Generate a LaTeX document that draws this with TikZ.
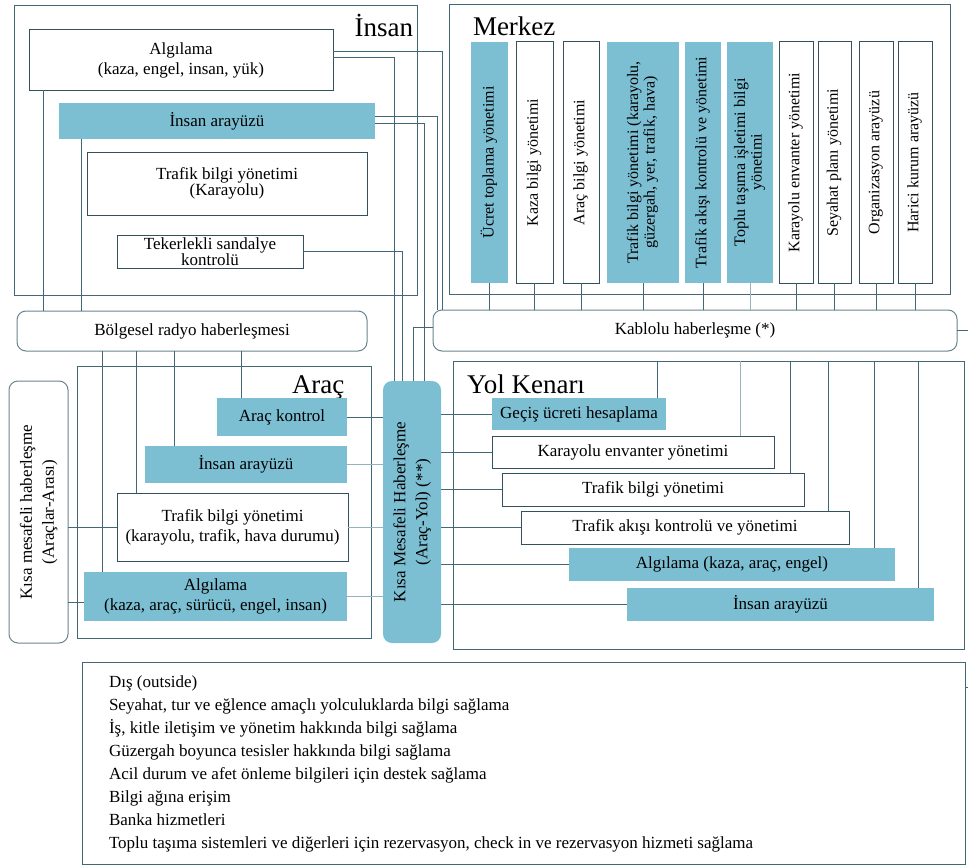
\documentclass[tikz,border=0pt]{standalone}
\usepackage{fontspec}
\setmainfont{Liberation Serif}
\usepackage{graphicx}

\definecolor{bluefill}{RGB}{124,191,211}
\definecolor{panelc}{RGB}{66,104,118}
\definecolor{boxc}{RGB}{52,80,95}
\definecolor{roundc}{RGB}{105,132,142}
\definecolor{linec}{RGB}{66,104,119}
\definecolor{lightc}{RGB}{150,178,188}

\newcommand{\boxfont}{\fontsize{17}{20}\selectfont}
\newcommand{\tightfont}{\fontsize{17}{15}\selectfont}
\newcommand{\colfont}{\fontsize{16}{16.5}\selectfont}
\newcommand{\sidefont}{\fontsize{17}{22}\selectfont}
\newcommand{\titlefont}{\fontsize{27}{30}\selectfont}
\newcommand{\listfont}{\fontsize{17}{19}\selectfont}

% vertical (rotated) multi-line label inside an upright box
\newcommand{\vtext}[1]{\rotatebox{90}{\begin{tabular}{@{}c@{}}#1\end{tabular}}}

% box given by its corners (x1,y1) (x2,y2) in pixel units
\newcommand{\boxat}[7]{%
  \node[#1,minimum width={(#5)-(#3)},minimum height={(#6)-(#4)}]
    (#2) at ({((#3)+(#5))/2},{((#4)+(#6))/2}) {#7};}

\tikzset{
  every node/.style={inner sep=0pt,outer sep=0pt},
  panel/.style={draw=panelc,line width=1pt,rectangle},
  wbox/.style={draw=boxc,line width=1pt,fill=white,align=center,font=\boxfont},
  bbox/.style={fill=bluefill,align=center,font=\boxfont},
  wcol/.style={draw=boxc,line width=1pt,fill=white,font=\colfont},
  bcol/.style={fill=bluefill,font=\colfont},
  rbox/.style={draw=roundc,line width=1pt,rounded corners=9pt,fill=white,align=center,font=\boxfont},
  rblue/.style={fill=bluefill,rounded corners=9pt,font=\sidefont},
  link/.style={draw=linec,line width=0.95pt},
  linklight/.style={draw=lightc,line width=0.95pt},
  title/.style={font=\titlefont,anchor=base west},
  listline/.style={font=\listfont,anchor=base west},
}

\begin{document}
\begin{tikzpicture}[x=1pt,y=-1pt]
\useasboundingbox (0,0) rectangle (968,867);
\fill[white] (0,0) rectangle (968,867);

% ---------- panels ----------
\boxat{panel}{human}{14}{6}{417}{295}{}
\boxat{panel}{center}{449}{5}{950}{294}{}
\boxat{panel}{vehicle}{77}{366}{371}{638}{}
\boxat{panel}{road}{453}{361}{964}{649}{}
\boxat{panel}{outside}{82}{662}{965}{864}{}

\node[title,anchor=base east] (tHuman) at (413,37) {İnsan};
\node[title] (tCenter) at (473,36) {Merkez};
\node[title] (tVehicle) at (292,393) {Araç};
\node[title] (tRoad) at (467,393) {Yol Kenarı};

% ---------- human side ----------
\boxat{wbox}{hAlg}{29}{30}{333}{90}{Algılama\\(kaza, engel, insan, yük)}
\boxat{bbox}{hHmi}{59}{103}{375}{139}{İnsan arayüzü}
\boxat{wbox,font=\tightfont}{hTraf}{87}{152}{367}{215}{Trafik bilgi yönetimi\\(Karayolu)}
\boxat{wbox,font=\tightfont}{hWheel}{117}{235}{303}{268}{Tekerlekli sandalye\\kontrolü}

% ---------- center ----------
\boxat{bcol}{m1}{471}{42}{508}{283}{\vtext{Ücret toplama yönetimi}}
\boxat{wcol}{m2}{516}{42}{553}{283}{\vtext{Kaza bilgi yönetimi}}
\boxat{wcol}{m3}{563}{42}{599}{283}{\vtext{Araç bilgi yönetimi}}
\boxat{bcol}{m4}{607}{42}{679}{283}{\vtext{Trafik bilgi yönetimi (karayolu,\\güzergah, yer, trafik, hava)}}
\boxat{bcol}{m5}{685}{42}{721}{283}{\vtext{Trafik akışı kontrolü ve yönetimi}}
\boxat{bcol}{m6}{727}{42}{773}{283}{\vtext{Toplu taşıma işletimi bilgi\\yönetimi}}
\boxat{wcol}{m7}{779}{42}{813}{283}{\vtext{Karayolu envanter yönetimi}}
\boxat{wcol}{m8}{818}{42}{851}{283}{\vtext{Seyahat planı yönetimi}}
\boxat{wcol}{m9}{859}{42}{893}{283}{\vtext{Organizasyon arayüzü}}
\boxat{wcol}{m10}{898}{42}{932}{283}{\vtext{Harici kurum arayüzü}}

% ---------- communication bars ----------
\boxat{rbox}{kab}{433}{310}{957}{351}{Kablolu haberleşme (*)}
\boxat{rbox}{bol}{17}{311}{367}{351}{Bölgesel radyo haberleşmesi}
\boxat{rbox,font=\sidefont}{v2v}{9}{381}{68}{643}{\vtext{Kısa mesafeli haberleşme\\(Araçlar-Arası)}}
\boxat{rblue}{v2r}{383}{381}{441}{643}{\vtext{Kısa Mesafeli Haberleşme\\(Araç-Yol) (**)}}

% ---------- vehicle ----------
\boxat{bbox}{aCtl}{217}{398}{347}{436}{Araç kontrol}
\boxat{bbox}{aHmi}{145}{446}{347}{483}{İnsan arayüzü}
\boxat{wbox}{aTraf}{117}{493}{348}{561}{Trafik bilgi yönetimi\\(karayolu, trafik, hava durumu)}
\boxat{bbox}{aAlg}{84}{572}{347}{621}{Algılama\\(kaza, araç, sürücü, engel, insan)}

% ---------- roadside ----------
\boxat{bbox}{r1}{492}{398}{666}{430}{Geçiş ücreti hesaplama}
\boxat{wbox}{r2}{492}{436}{774}{468}{Karayolu envanter yönetimi}
\boxat{wbox}{r3}{502}{473}{804}{506}{Trafik bilgi yönetimi}
\boxat{wbox}{r4}{521}{511}{849}{544}{Trafik akışı kontrolü ve yönetimi}
\boxat{bbox}{r5}{569}{548}{895}{581}{Algılama (kaza, araç, engel)}
\boxat{bbox}{r6}{627}{588}{934}{621}{İnsan arayüzü}

% ---------- outside list ----------
\foreach \t [count=\i] in {%
  {Dış (outside)},
  {Seyahat, tur ve eğlence amaçlı yolculuklarda bilgi sağlama},
  {İş, kitle iletişim ve yönetim hakkında bilgi sağlama},
  {Güzergah boyunca tesisler hakkında bilgi sağlama},
  {Acil durum ve afet önleme bilgileri için destek sağlama},
  {Bilgi ağına erişim},
  {Banka hizmetleri},
  {Toplu taşıma sistemleri ve diğerleri için rezervasyon, check in ve rezervasyon hizmeti sağlama}}
  \node[listline] (out\i) at (109,{665+22.9*\i}) {\t};

% ---------- connectors: human ----------
\draw[link] ([yshift=9pt]hAlg.east) -| ([xshift=9pt]kab.north west);
\draw[link] ([yshift=3pt]hAlg.east) -| ([xshift=11pt]v2r.north west);
\draw[link] ([yshift=5pt]hHmi.east) -| ([xshift=4pt]kab.north west);
\draw[link] ([yshift=-2pt]hHmi.east) -| ([xshift=41pt]v2r.north west);
\draw[link] (hWheel.east) -| ([xshift=19pt]v2r.north west);
\draw[link] ([yshift=3.5pt]kab.west) -| ([xshift=30pt]v2r.north west);
\draw[link] ([xshift=14pt]hAlg.south west) coordinate (c1) -- (c1 |- bol.north);
\draw[link] ([xshift=22pt]hHmi.south west) coordinate (c2) -- (c2 |- bol.north);

% ---------- connectors: center ----------
\foreach \c in {m1,m2,m3,m4,m5,m7,m8,m9,m10}
  \draw[link] (\c.south) -- (\c.south |- kab.north);
\draw[linklight] (m6.south) -- (m6.south |- kab.north);
\coordinate (kabEnd) at (968,332);
\draw[link] (kab.east) -- (kab.east -| kabEnd);
\coordinate (outTick) at (968,687);
\draw[link] (outside.east |- outTick) -- (outTick);

% ---------- connectors: vehicle ----------
\draw[link] ([xshift=24pt]aCtl.north west) coordinate (c3) -- (c3 |- bol.south);
\draw[link] ([xshift=29pt]aHmi.north west) coordinate (c4) -- (c4 |- bol.south);
\draw[link] ([xshift=19pt]aTraf.north west) coordinate (c5) -- (c5 |- bol.south);
\draw[link] ([xshift=18pt]aAlg.north west) coordinate (c6) -- (c6 |- bol.south);
\draw[link] (aTraf.west) -- (aTraf.west -| v2v.east);
\draw[link] ([yshift=-5.5pt]aAlg.west) coordinate (c7) -- (c7 -| v2v.east);
\draw[link] (aCtl.east) -- (aCtl.east -| v2r.west);
\draw[linklight] (aHmi.east) -- (aHmi.east -| v2r.west);
\draw[linklight] (aTraf.east) -- (aTraf.east -| v2r.west);
\draw[linklight] (aAlg.east) -- (aAlg.east -| v2r.west);

% ---------- connectors: roadside ----------
\foreach \r in {r1,r2,r3,r4,r5,r6}
  \draw[link] (\r.west) -- (\r.west -| v2r.east);
\draw[link] ([xshift=-9pt]r1.north east) coordinate (d1) -- (d1 |- road.north);
\draw[linklight] ([xshift=-34pt]r2.north east) coordinate (d2) -- (d2 |- road.north);
\draw[link] ([xshift=-14pt]r3.north east) coordinate (d3) -- (d3 |- road.north);
\draw[link] ([xshift=-21pt]r4.north east) coordinate (d4) -- (d4 |- road.north);
\draw[link] ([xshift=-21pt]r5.north east) coordinate (d5) -- (d5 |- road.north);
\draw[link] ([xshift=-16pt]r6.north east) coordinate (d6) -- (d6 |- road.north);
\end{tikzpicture}
\end{document}
